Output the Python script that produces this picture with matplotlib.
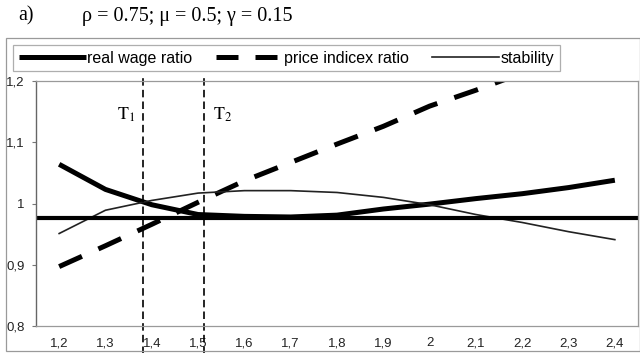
import matplotlib
matplotlib.use("Agg")
import matplotlib.pyplot as plt
from matplotlib.lines import Line2D
from matplotlib.patches import Rectangle

# ---- data ----
x_vals = [1.2, 1.3, 1.4, 1.5, 1.6, 1.7, 1.8, 1.9, 2.0, 2.1, 2.2, 2.3, 2.4]
x_labels = ["1,2", "1,3", "1,4", "1,5", "1,6", "1,7", "1,8", "1,9", "2", "2,1", "2,2", "2,3", "2,4"]
real_wage = [1.064, 1.023, 0.998, 0.982, 0.979, 0.978, 0.981, 0.991, 0.999, 1.008, 1.016, 1.026, 1.038]
price_index = [0.897, 0.931, 0.966, 1.002, 1.037, 1.067, 1.097, 1.126, 1.159, 1.185, 1.213, 1.240, 1.265]
stability = [0.951, 0.989, 1.005, 1.017, 1.021, 1.021, 1.018, 1.010, 0.998, 0.982, 0.969, 0.954, 0.941]
threshold = 0.977
T1, T2 = 1.38, 1.512
y_ticks = [0.8, 0.9, 1.0, 1.1, 1.2]
y_labels = ["0,8", "0,9", "1", "1,1", "1,2"]
series_names = ["real wage ratio", "price indicex ratio", "stability"]

plt.rcParams['mathtext.fontset'] = 'stix'
fig = plt.figure(figsize=(6.4, 3.53), dpi=100)
W, H = 640, 353
ax = fig.add_axes([36 / W, (H - 326) / H, (638 - 36) / W, (326 - 81) / H])

# outer chart frame
fig.patches.append(Rectangle((6 / W, (H - 351) / H), (640 - 6) / W, (351 - 38) / H,
                             transform=fig.transFigure, fill=False, edgecolor='#9a9a9a',
                             linewidth=0.9))

ax.plot(x_vals, real_wage, color='black', linewidth=3.6, solid_capstyle='butt')
ax.plot(x_vals, price_index, color='black', linewidth=3.6, dashes=(5, 3.6),
        dash_capstyle='butt')
ax.plot(x_vals, stability, color='#222222', linewidth=1.2)
ax.axhline(threshold, color='black', linewidth=3.0)

for t in (T1, T2):
    ax.axvline(t, ymin=-0.12, ymax=1.025, color='black', linewidth=1.2,
               dashes=(4.5, 2.5), clip_on=False)

ax.text(T1 - 0.036, 1.145, r'$\mathrm{T}_1$', fontsize=13, ha='center', va='center')
ax.text(T2 + 0.042, 1.145, r'$\mathrm{T}_2$', fontsize=13, ha='center', va='center')

ax.set_xlim(1.15, 2.45)
ax.set_ylim(0.8, 1.2)
ax.set_xticks(x_vals)
ax.set_xticklabels(x_labels, family='Liberation Sans', fontsize=9.5, color='#222222')
ax.set_yticks(y_ticks)
ax.set_yticklabels(y_labels, family='Liberation Sans', fontsize=9.5, color='#222222')
ax.tick_params(axis='x', length=0, pad=8)
ax.tick_params(axis='y', length=3, width=0.8, color='#777777', pad=5)
for s in ('top', 'right', 'bottom'):
    ax.spines[s].set_color('#9a9a9a')
    ax.spines[s].set_linewidth(0.9)
ax.spines['left'].set_color('#666666')
ax.spines['left'].set_linewidth(1.0)

handles = [
    Line2D([], [], color='black', linewidth=3.6, solid_capstyle='butt'),
    Line2D([], [], color='black', linewidth=3.6, dashes=(4.4, 3.4), dash_capstyle='butt'),
    Line2D([], [], color='#222222', linewidth=1.2),
]
leg = fig.legend(handles, series_names, loc='center left',
                 bbox_to_anchor=(13 / W, (H - 58) / H), ncol=3,
                 prop={'family': 'Liberation Sans', 'size': 11.5},
                 handlelength=4.2, handletextpad=0.1, columnspacing=1.45,
                 frameon=True, fancybox=False, borderpad=0.35, borderaxespad=0)
leg.get_frame().set_edgecolor('#9a9a9a')
leg.get_frame().set_linewidth(0.9)

fig.text(18 / W, (H - 16) / H, "a)", family='Liberation Serif', fontsize=14.5, va='center')
fig.text(82 / W, (H - 16) / H, "ρ = 0.75; μ = 0.5; γ = 0.15", family='Liberation Serif',
         fontsize=14.5, va='center')

fig.savefig("out.png", dpi=100)
